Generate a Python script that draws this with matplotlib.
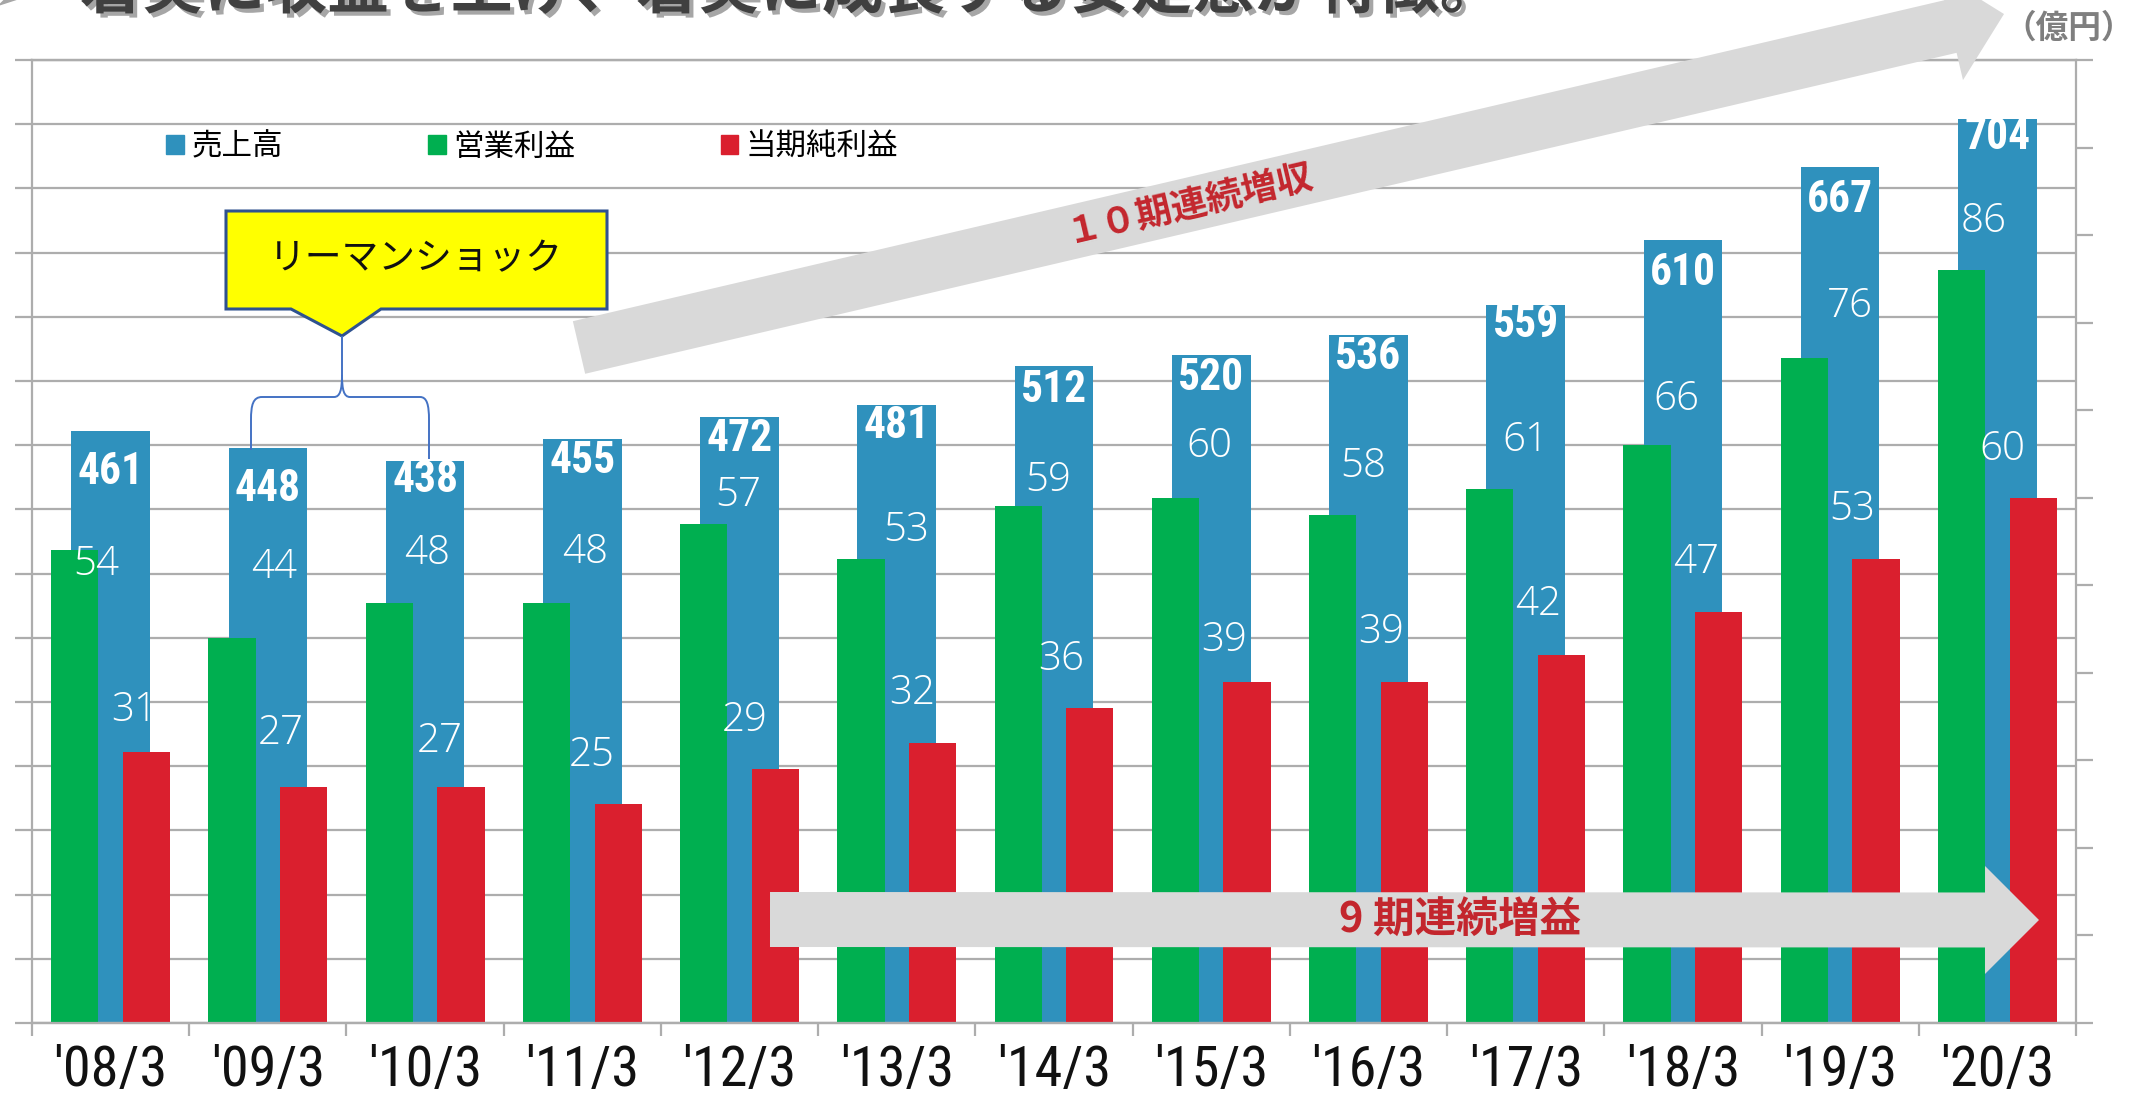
import os
import numpy as np
import matplotlib
matplotlib.use("Agg")
import matplotlib.pyplot as plt
from matplotlib import font_manager as fm
from matplotlib.patches import Polygon, PathPatch, Patch
from matplotlib.path import Path
import matplotlib.patheffects as pe

# データ（億円）
years = ["'08/3", "'09/3", "'10/3", "'11/3", "'12/3", "'13/3", "'14/3",
         "'15/3", "'16/3", "'17/3", "'18/3", "'19/3", "'20/3"]
sales = [461, 448, 438, 455, 472, 481, 512, 520, 536, 559, 610, 667, 704]
op_profit = [54, 44, 48, 48, 57, 53, 59, 60, 58, 61, 66, 76, 86]
net_profit = [31, 27, 27, 25, 29, 32, 36, 39, 39, 42, 47, 53, 60]
series_names = ["売上高", "営業利益", "当期純利益"]

# ラベルの微調整（元の図で手で動かされている位置）
sales_drop = [32, 32, 15, 17, 17, 16, 19, 18, 17, 15, 26, 26, 14]
op_dx = [-0.09, 0.04, 0.01, 0.02, -0.01, 0.06, -0.04, -0.01, -0.035, 0, -0.04, 0.06, -0.09]
op_dy = [-1.6, 8.0, 5.6, 5.8, 3.3, 3.3, 3.0, 5.8, 5.6, 5.5, 5.2, 5.8, 5.5]
net_dx = [0.15, 0.085, 0.095, 0.06, 0.03, 0.10, 0.045, 0.08, 0.08, 0.08, 0.085, 0.08, 0.03]
net_dy = [4.7, 6.1, 5.2, 5.5, 5.6, 5.6, 5.5, 4.7, 5.6, 5.8, 5.6, 5.6, 5.5]

BLUE = "#2F91BD"
GREEN = "#00AF50"
RED = "#DA1F2E"
GRID = "#ADADAD"
ARROW = "#D9D9D9"
TXT_RED = "#C3262D"

JP = ["Noto Sans CJK JP", "DejaVu Sans"]
W, H = 2136, 1098


def find_narrow(bold):
    # 細長い数字用のフォントを探す（Arial Narrow 風）
    keys = ["liberationsansnarrow", "robotocondensed", "notosans-condensed",
            "opensans-condensed", "opensans_condensed", "dejavusanscondensed",
            "liberationsans-", "roboto-"]
    bad = ["italic", "oblique", "semi", "extra", "ultra", "light", "thin",
           "medium", "black", "mono", "serif"]
    for k in keys:
        for f in fm.fontManager.ttflist:
            base = os.path.basename(f.fname).lower()
            if k not in base or any(b in base for b in bad):
                continue
            if ("bold" in base) == bold:
                return fm.FontProperties(fname=f.fname)
    fp = fm.FontProperties(family="DejaVu Sans")
    if bold:
        fp.set_weight("bold")
    return fp


def fx(px):
    return px / W


def fy(py):
    return 1 - py / H


def arrow_px(x0, y0, x1, y1, shaft, head_w, head_l):
    p0 = np.array([x0, y0], float)
    p1 = np.array([x1, y1], float)
    d = p1 - p0
    L = np.hypot(*d)
    u = d / L
    n = np.array([-u[1], u[0]])
    b = p0 + u * (L - head_l)
    pts = [p0 + n * shaft / 2, b + n * shaft / 2, b + n * head_w / 2, p1,
           b - n * head_w / 2, b - n * shaft / 2, p0 - n * shaft / 2]
    return [(fx(p[0]), fy(p[1])) for p in pts]


fig = plt.figure(figsize=(W / 100, H / 100), dpi=100)

# フォントサイズを幅から決める
narrow = find_narrow(False)
narrow_b = find_narrow(True)
rend = fig.canvas.get_renderer()


def fit_size(text, fp, target_px):
    t = fig.text(0, 0, text, fontproperties=fp, fontsize=40)
    w = t.get_window_extent(rend).width
    t.remove()
    return 40 * target_px / w


tick_size = min(fit_size("'08/3", narrow, 114), 42)
blue_size = min(fit_size("704", narrow_b, 66), 34)

ax = fig.add_axes([fx(32), fy(1023), fx(2076) - fx(32), fy(60) - fy(1023)])
ax2 = ax.twinx()

x = np.arange(len(years))
b1 = ax.bar(x, sales, width=0.5, color=BLUE, zorder=2)
b2 = ax2.bar(x - 0.228, op_profit, width=0.30, color=GREEN)
b3 = ax2.bar(x + 0.228, net_profit, width=0.30, color=RED)

ax.set_xlim(-0.5, len(years) - 0.5)
ax.set_ylim(0, 750)
ax2.set_ylim(0, 110)

ax.set_yticks(np.arange(0, 751, 50))
ax.yaxis.grid(True, color=GRID, lw=1.6)
ax.set_axisbelow(True)
ax.tick_params(axis="y", length=12, width=1.6, color=GRID, labelleft=False)
ax2.set_yticks(np.arange(0, 111, 10))
ax2.tick_params(axis="y", length=12, width=1.6, color=GRID, labelright=False)

ax.set_xticks(np.arange(-0.5, len(years), 1))
ax.tick_params(axis="x", which="major", length=9.5, width=1.6, color=GRID, labelbottom=False)
ax.set_xticks(x, minor=True)
ax.set_xticklabels(years, minor=True, fontproperties=narrow, fontsize=tick_size, color="#111111")
ax.tick_params(axis="x", which="minor", length=0, pad=15)

for a in (ax, ax2):
    for s in a.spines.values():
        s.set_color(GRID)
        s.set_linewidth(1.6)
ax2.spines["left"].set_visible(False)
ax.spines["right"].set_visible(False)

# 値ラベル
for i in range(len(years)):
    ax.text(x[i], sales[i] - sales_drop[i], str(sales[i]), ha="center", va="center",
            color="white", fontproperties=narrow_b, fontsize=blue_size)
    ax2.text(x[i] + op_dx[i], op_profit[i] + op_dy[i], str(op_profit[i]), ha="center",
             va="center", color="white", fontsize=29, family=["Open Sans", "DejaVu Sans"],
             fontweight="light")
    ax2.text(x[i] + net_dx[i], net_profit[i] + net_dy[i], str(net_profit[i]), ha="center",
             va="center", color="white", fontsize=29, family=["Open Sans", "DejaVu Sans"],
             fontweight="light")

# 凡例
handles = [Patch(color=BLUE), Patch(color=GREEN), Patch(color=RED)]
ax2.legend(handles, series_names, ncol=3, frameon=False, loc="center left",
           bbox_to_anchor=(fx(166), fy(147)), bbox_transform=fig.transFigure,
           prop={"family": JP, "size": 22}, handlelength=0.58, handleheight=0.58,
           handletextpad=0.25, columnspacing=4.75, borderpad=0, borderaxespad=0)

# 矢印
fig.add_artist(Polygon(arrow_px(579, 347.5, 2004, 14, 54, 110, 55), closed=True,
                       transform=fig.transFigure, facecolor=ARROW, edgecolor="none"))
fig.add_artist(Polygon(arrow_px(770, 919.5, 2039, 920, 55, 108, 54), closed=True,
                       transform=fig.transFigure, facecolor=ARROW, edgecolor="none"))
ang = np.degrees(np.arctan2(347.5 - 14, 2004 - 579))
fig.text(fx(1190), fy(204), "１０期連続増収", rotation=ang, rotation_mode="anchor",
         ha="center", va="center", fontsize=26, fontweight="bold", color=TXT_RED, family=JP)
fig.text(fx(1460), fy(921), "9 期連続増益", ha="center", va="center",
         fontsize=30, fontweight="bold", color=TXT_RED, family=JP)

# リーマンショックの吹き出し
callout = [(226, 211), (607, 211), (607, 309), (381, 309), (342, 336), (291, 309), (226, 309)]
fig.add_artist(Polygon([(fx(a), fy(b)) for a, b in callout], closed=True,
                       transform=fig.transFigure, facecolor="#FFFF00",
                       edgecolor="#2F528F", lw=2.2))
fig.text(fx(416), fy(259), "リーマンショック", ha="center", va="center",
         fontsize=26.5, color="#111111", family=JP)

brace_px = [(251, 450), (251, 420), (251, 405), (253, 397), (262, 397), (334, 397),
            (340, 397), (342, 390), (342, 375), (342, 336),
            (342, 375), (342, 390), (344, 397), (350, 397), (420, 397),
            (427, 397), (429, 405), (429, 420), (429, 459)]
codes = [Path.MOVETO, Path.LINETO, Path.CURVE4, Path.CURVE4, Path.CURVE4, Path.LINETO,
         Path.CURVE4, Path.CURVE4, Path.CURVE4, Path.LINETO,
         Path.MOVETO, Path.CURVE4, Path.CURVE4, Path.CURVE4, Path.LINETO,
         Path.CURVE4, Path.CURVE4, Path.CURVE4, Path.LINETO]
brace = Path([(fx(a), fy(b)) for a, b in brace_px], codes)
fig.add_artist(PathPatch(brace, transform=fig.transFigure, facecolor="none",
                         edgecolor="#4472C4", lw=1.4))

# タイトル（元の図でも上が切れている）と単位
shadow = [pe.SimplePatchShadow(offset=(3, -3), shadow_rgbFace="#000000", alpha=0.35), pe.Normal()]
fig.text(fx(-14), fy(8), "➢", ha="left", va="baseline", fontsize=44.5,
         color="#404040", family=["DejaVu Sans"], path_effects=shadow)
fig.text(fx(80), fy(8), "着実に収益を上げ、着実に成長する安定感が特徴。", ha="left", va="baseline",
         fontsize=44.5, fontweight="bold", color="#404040", family=JP, path_effects=shadow)
fig.text(fx(2134), fy(28), "（億円）", ha="right", va="center", fontsize=23.5,
         fontweight="bold", color="#7F7F7F", family=JP)

fig.savefig("out.png", dpi=100)
